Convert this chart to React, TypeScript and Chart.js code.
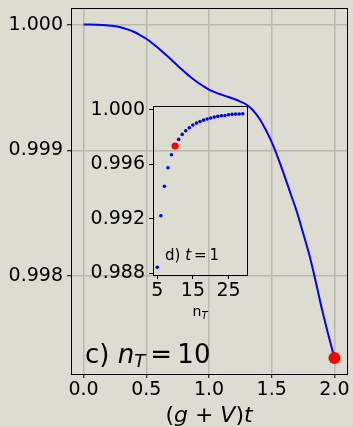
import React, { useEffect, useRef } from "react";
import { Chart, registerables } from "chart.js";

Chart.register(...registerables);

// ---- main panel (c): fidelity vs (g+V)t for n_T = 10 ----
const curveX = [
  0, 0.05, 0.1, 0.15, 0.2, 0.25, 0.3, 0.35, 0.4, 0.45, 0.5, 0.55, 0.6, 0.65, 0.7, 0.75, 0.8, 0.85, 0.9, 0.95, 1.0,
  1.05, 1.1, 1.15, 1.2, 1.25, 1.3, 1.35, 1.4, 1.45, 1.5, 1.55, 1.6, 1.65, 1.7, 1.75, 1.8, 1.85, 1.9, 1.95, 2.0,
];
const curveY = [
  1.0, 1.0, 0.9999992, 0.9999972, 0.9999936, 0.9999865, 0.9999769, 0.9999618, 0.999943, 0.9999171, 0.9998873,
  0.9998502, 0.9998104, 0.9997657, 0.9997203, 0.9996733, 0.9996287, 0.9995857, 0.9995474, 0.9995139, 0.9994837,
  0.9994614, 0.999443, 0.9994263, 0.9994088, 0.999388, 0.9993625, 0.9993187, 0.999255, 0.9991673, 0.9990653,
  0.9989402, 0.9988016, 0.9986574, 0.9985124, 0.9983426, 0.9981681, 0.9979602, 0.9977386, 0.9975378, 0.997349,
];
const markerX = [2.0];
const markerY = [0.997349];
const mainXTicks = [0, 0.5, 1.0, 1.5, 2.0];
const mainYTicks = [0.998, 0.999, 1.0];

// ---- inset panel (d): fidelity vs n_T at t = 1 ----
const nT = [5, 6, 7, 8, 9, 10, 11, 12, 13, 14, 15, 16, 17, 18, 19, 20, 21, 22, 23, 24, 25, 26, 27, 28, 29];
const fidelity = [
  0.98843, 0.99222, 0.99438, 0.99574, 0.9967, 0.99733, 0.99782, 0.99819, 0.99846, 0.99868, 0.99888, 0.99902,
  0.99914, 0.99924, 0.99932, 0.99939, 0.99946, 0.99951, 0.99956, 0.99958, 0.99963, 0.99966, 0.99968, 0.99969,
  0.99971,
];
const highlightN = [10];
const highlightF = [0.99733];
const insetXTicks = [5, 15, 25];
const insetYTicks = [0.988, 0.992, 0.996, 1.0];

const FONT = '"DejaVu Sans", "Liberation Sans", sans-serif';
const BG = "#dddcd0";
const GRID = "#b8b8b0";

type Seg = { t: string; it?: boolean; sz: number; dy?: number };

function drawRich(ctx: CanvasRenderingContext2D, segs: Seg[], x: number, y: number, align: "left" | "center") {
  ctx.save();
  ctx.fillStyle = "#000";
  ctx.textBaseline = "alphabetic";
  ctx.textAlign = "left";
  const fontOf = (s: Seg) => `${s.it ? "italic " : ""}${s.sz}px ${FONT}`;
  let w = 0;
  for (const s of segs) {
    ctx.font = fontOf(s);
    w += ctx.measureText(s.t).width;
  }
  let cx = align === "center" ? x - w / 2 : x;
  for (const s of segs) {
    ctx.font = fontOf(s);
    ctx.fillText(s.t, cx, y + (s.dy || 0));
    cx += ctx.measureText(s.t).width;
  }
  ctx.restore();
}

const framePlugin = {
  id: "frame",
  afterDatasetsDraw(chart: any) {
    const { ctx, chartArea } = chart;
    ctx.save();
    ctx.strokeStyle = "#000";
    ctx.lineWidth = 1;
    ctx.strokeRect(
      Math.round(chartArea.left) + 0.5,
      Math.round(chartArea.top) + 0.5,
      Math.round(chartArea.right - chartArea.left),
      Math.round(chartArea.bottom - chartArea.top)
    );
    ctx.restore();
  },
};

const noPad = (s: any) => {
  s.paddingTop = 0;
  s.paddingBottom = 0;
  s.paddingLeft = 0;
  s.paddingRight = 0;
};

export default function App() {
  const mainRef = useRef<HTMLCanvasElement>(null);
  const insetRef = useRef<HTMLCanvasElement>(null);

  useEffect(() => {
    const mainTexts = {
      id: "mainTexts",
      afterDraw(chart: any) {
        const ctx = chart.ctx as CanvasRenderingContext2D;
        const xs = chart.scales.x;
        drawRich(
          ctx,
          [
            { t: "c) ", sz: 26 },
            { t: "n", it: true, sz: 26 },
            { t: "T", it: true, sz: 18, dy: 4 },
            { t: "\u2009=\u200910", sz: 26 },
          ],
          85,
          363,
          "left"
        );
        drawRich(
          ctx,
          [
            { t: "(", sz: 22 },
            { t: "g", it: true, sz: 22 },
            { t: " + ", sz: 22 },
            { t: "V", it: true, sz: 22 },
            { t: ")", sz: 22 },
            { t: "t", it: true, sz: 22 },
          ],
          xs.getPixelForValue(1.0),
          422,
          "center"
        );
      },
    };

    const insetTexts = {
      id: "insetTexts",
      afterDraw(chart: any) {
        const ctx = chart.ctx as CanvasRenderingContext2D;
        const ca = chart.chartArea;
        drawRich(
          ctx,
          [
            { t: "d) ", sz: 15 },
            { t: "t", it: true, sz: 15 },
            { t: "\u2009=\u20091", sz: 15 },
          ],
          165,
          260,
          "left"
        );
        drawRich(
          ctx,
          [
            { t: "n", sz: 14 },
            { t: "T", it: true, sz: 10, dy: 3 },
          ],
          (ca.left + ca.right) / 2,
          316,
          "center"
        );
      },
    };

    const tickFont = { family: FONT, size: 19 };

    const main = new Chart(mainRef.current as HTMLCanvasElement, {
      type: "scatter",
      data: {
        datasets: [
          {
            data: markerX.map((x, i) => ({ x, y: markerY[i] })),
            pointRadius: 6,
            pointBackgroundColor: "#ff0000",
            pointBorderWidth: 0,
            showLine: false,
          },
          {
            data: curveX.map((x, i) => ({ x, y: curveY[i] })),
            showLine: true,
            borderColor: "#0000ff",
            borderWidth: 2,
            pointRadius: 0,
            cubicInterpolationMode: "monotone",
          },
        ],
      },
      options: {
        animation: false,
        responsive: false,
        devicePixelRatio: 1,
        layout: { padding: { top: 8, right: 3, left: 0, bottom: 0 } },
        plugins: { legend: { display: false }, tooltip: { enabled: false } },
        scales: {
          x: {
            type: "linear",
            min: -0.1,
            max: 2.1,
            afterBuildTicks: (s: any) => {
              s.ticks = mainXTicks.map((v) => ({ value: v }));
            },
            afterFit: (s: any) => {
              s.height = 53;
              noPad(s);
            },
            ticks: {
              callback: (v: any) => Number(v).toFixed(1),
              font: tickFont,
              color: "#000",
              padding: 1,
              maxRotation: 0,
              autoSkip: false,
            },
            grid: { color: GRID, lineWidth: 1.5, tickColor: "#000", tickLength: 4, tickWidth: 1 },
            border: { display: false },
          },
          y: {
            type: "linear",
            min: 0.997222,
            max: 1.000132,
            afterBuildTicks: (s: any) => {
              s.ticks = mainYTicks.map((v) => ({ value: v }));
            },
            afterFit: (s: any) => {
              s.width = 71;
              noPad(s);
            },
            ticks: {
              callback: (v: any) => Number(v).toFixed(3),
              font: tickFont,
              color: "#000",
              padding: 4,
              autoSkip: false,
            },
            grid: { color: GRID, lineWidth: 1.5, tickColor: "#000", tickLength: 4, tickWidth: 1 },
            border: { display: false },
          },
        },
      } as any,
      plugins: [framePlugin, mainTexts],
    });

    const inset = new Chart(insetRef.current as HTMLCanvasElement, {
      type: "scatter",
      data: {
        datasets: [
          {
            data: highlightN.map((x, i) => ({ x, y: highlightF[i] })),
            pointRadius: 3.6,
            pointBackgroundColor: "#ff0000",
            pointBorderWidth: 0,
          },
          {
            data: nT.map((x, i) => ({ x, y: fidelity[i] })),
            pointRadius: 1.8,
            pointBackgroundColor: "#0000ff",
            pointBorderWidth: 0,
          },
        ],
      },
      options: {
        animation: false,
        responsive: false,
        devicePixelRatio: 1,
        layout: { padding: { top: 106, right: 106, left: 0, bottom: 0 } },
        plugins: { legend: { display: false }, tooltip: { enabled: false } },
        scales: {
          x: {
            type: "linear",
            min: 3.8,
            max: 30.2,
            afterBuildTicks: (s: any) => {
              s.ticks = insetXTicks.map((v) => ({ value: v }));
            },
            afterFit: (s: any) => {
              s.height = 152;
              noPad(s);
            },
            ticks: {
              callback: (v: any) => String(v),
              font: tickFont,
              color: "#000",
              padding: 1,
              maxRotation: 0,
              autoSkip: false,
            },
            grid: { drawOnChartArea: false, tickColor: "#000", tickLength: 4, tickWidth: 1 },
            border: { display: false },
          },
          y: {
            type: "linear",
            min: 0.987866,
            max: 1.000274,
            afterBuildTicks: (s: any) => {
              s.ticks = insetYTicks.map((v) => ({ value: v }));
            },
            afterFit: (s: any) => {
              s.width = 153;
              noPad(s);
            },
            ticks: {
              callback: (v: any) => Number(v).toFixed(3),
              font: tickFont,
              color: "#000",
              padding: 4,
              autoSkip: false,
            },
            grid: { drawOnChartArea: false, tickColor: "#000", tickLength: 4, tickWidth: 1 },
            border: { display: false },
          },
        },
      } as any,
      plugins: [framePlugin, insetTexts],
    });

    return () => {
      main.destroy();
      inset.destroy();
    };
  }, []);

  return (
    <div style={{ position: "fixed", left: 0, top: 0, width: 353, height: 427, background: BG }}>
      <canvas ref={mainRef} width={353} height={427} style={{ position: "absolute", left: 0, top: 0 }} />
      <canvas
        ref={insetRef}
        width={353}
        height={427}
        style={{ position: "absolute", left: 0, top: 0, pointerEvents: "none" }}
      />
    </div>
  );
}
